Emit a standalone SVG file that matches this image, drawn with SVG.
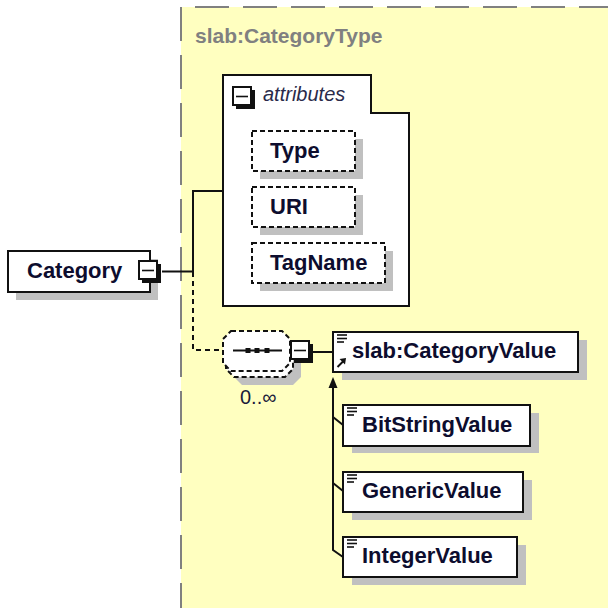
<svg xmlns="http://www.w3.org/2000/svg" width="608" height="608" viewBox="0 0 608 608">
  <style>
    .name { font-family: "Liberation Sans", Arial, sans-serif; font-weight: bold; font-size: 22px; fill: #0d0d2e; }
    .attr { font-family: "Liberation Sans", Arial, sans-serif; font-style: italic; font-size: 20px; fill: #2a2a4a; }
    .title { font-family: "Liberation Sans", Arial, sans-serif; font-weight: bold; font-size: 21px; fill: #808080; }
    .card { font-family: "Liberation Sans", Arial, sans-serif; font-size: 20px; fill: #1a1a3a; }
    .box { fill: #fff; stroke: #111; stroke-width: 2; }
    .dbox { fill: #fff; stroke: #111; stroke-width: 2; stroke-dasharray: 5 3; }
    .shadow { fill: #c0c0c0; }
    .wire { fill: none; stroke: #111; stroke-width: 2; }
    .dwire { fill: none; stroke: #111; stroke-width: 2; stroke-dasharray: 5 4; }
    .icon { stroke: #111; stroke-width: 1.6; }
  </style>
  <defs>
    <!-- collapse toggle: white square with heavy lower-right edge -->
    <g id="minus">
      <rect x="4" y="4" width="19" height="19" fill="#111"/>
      <rect x="1" y="1" width="18" height="18" fill="#fff" stroke="#111" stroke-width="2"/>
      <line x1="4" y1="10.5" x2="16" y2="10.5" stroke="#111" stroke-width="1.6"/>
    </g>
    <!-- simple-content marker -->
    <g id="lines">
      <line x1="0" y1="0" x2="10" y2="0" class="icon"/>
      <line x1="0" y1="3.5" x2="10" y2="3.5" class="icon"/>
      <line x1="0" y1="7" x2="7" y2="7" class="icon"/>
    </g>
  </defs>

  <rect width="608" height="608" fill="#fff"/>

  <!-- complex type area -->
  <g id="type-area">
    <rect x="181" y="7" width="427" height="601" fill="#ffffc0"/>
    <line x1="195" y1="7" x2="608" y2="7" stroke="#808080" stroke-width="2" stroke-dasharray="34 14"/>
    <line x1="181" y1="7" x2="181" y2="608" stroke="#808080" stroke-width="2" stroke-dasharray="34 14"/>
    <text class="title" x="195" y="43">slab:CategoryType</text>
  </g>

  <!-- connectors -->
  <g id="connectors">
    <path class="wire" d="M162 271.5 H193 V191 H223"/>
    <path class="dwire" d="M193 272 V350 H223"/>
    <line class="wire" x1="313" y1="352" x2="333" y2="352"/>
    <path class="wire" d="M333 386 V550 L343 557"/>
    <path class="wire" d="M333 417 L343 425"/>
    <path class="wire" d="M333 483 L343 491"/>
    <polygon points="333,377 328.5,388 337.5,388" fill="#111"/>
  </g>

  <!-- root element -->
  <g id="node-category">
    <rect class="shadow" x="16" y="259" width="142" height="41"/>
    <rect class="box" x="8" y="251" width="142" height="41"/>
    <text class="name" x="27" y="278">Category</text>
    <use href="#minus" x="138" y="260"/>
  </g>

  <!-- attribute group -->
  <g id="node-attributes">
    <polygon class="box" points="223,75 371,75 371,113 409,113 409,306 223,306"/>
    <use href="#minus" x="232" y="86" transform="translate(0,0)"/>
    <text class="attr" x="263" y="101">attributes</text>
  </g>

  <g id="node-type">
    <rect class="shadow" x="260" y="139" width="103" height="40"/>
    <rect class="dbox" x="252" y="131" width="103" height="40"/>
    <text class="name" x="270" y="158">Type</text>
  </g>

  <g id="node-uri">
    <rect class="shadow" x="260" y="195" width="103" height="40"/>
    <rect class="dbox" x="252" y="187" width="103" height="40"/>
    <text class="name" x="270" y="214">URI</text>
  </g>

  <g id="node-tagname">
    <rect class="shadow" x="260" y="251" width="133" height="40"/>
    <rect class="dbox" x="252" y="243" width="133" height="40"/>
    <text class="name" x="270" y="270">TagName</text>
  </g>

  <!-- sequence compositor, optional and repeating -->
  <g id="node-sequence">
    <polygon class="shadow" points="242,345 293,345 301,353 301,377 293,385 242,385 234,377 234,353"/>
    <polygon class="dbox" points="234,337 285,337 293,345 293,369 285,377 234,377 226,369 226,345"/>
    <polygon class="dbox" points="231,331 282,331 290,339 290,363 282,371 231,371 223,363 223,339"/>
    <line x1="233" y1="350.5" x2="282" y2="350.5" stroke="#111" stroke-width="1.8"/>
    <rect x="245.5" y="348" width="5" height="5" fill="#111"/>
    <rect x="254.5" y="348" width="5" height="5" fill="#111"/>
    <rect x="264.5" y="348" width="5" height="5" fill="#111"/>
    <use href="#minus" x="290" y="340"/>
    <text class="card" x="240" y="404">0..∞</text>
  </g>

  <!-- head of the substitution group -->
  <g id="node-categoryvalue">
    <rect class="shadow" x="342" y="340" width="245" height="40"/>
    <rect class="box" x="333" y="332" width="245" height="40"/>
    <use href="#lines" x="337" y="335"/>
    <line x1="337.5" y1="367" x2="344" y2="360.5" stroke="#111" stroke-width="2"/>
    <polygon points="346,358 339.5,359 345,364.5" fill="#111"/>
    <text class="name" x="352" y="358">slab:CategoryValue</text>
  </g>

  <g id="node-bitstringvalue">
    <rect class="shadow" x="352" y="413" width="187" height="40"/>
    <rect class="box" x="343" y="405" width="187" height="41"/>
    <use href="#lines" x="347" y="408"/>
    <text class="name" x="362" y="432">BitStringValue</text>
  </g>

  <g id="node-genericvalue">
    <rect class="shadow" x="352" y="480" width="180" height="40"/>
    <rect class="box" x="343" y="472" width="180" height="40"/>
    <use href="#lines" x="347" y="475"/>
    <text class="name" x="362" y="498">GenericValue</text>
  </g>

  <g id="node-integervalue">
    <rect class="shadow" x="352" y="545" width="174" height="40"/>
    <rect class="box" x="343" y="537" width="174" height="40"/>
    <use href="#lines" x="347" y="540"/>
    <text class="name" x="362" y="563">IntegerValue</text>
  </g>
</svg>
